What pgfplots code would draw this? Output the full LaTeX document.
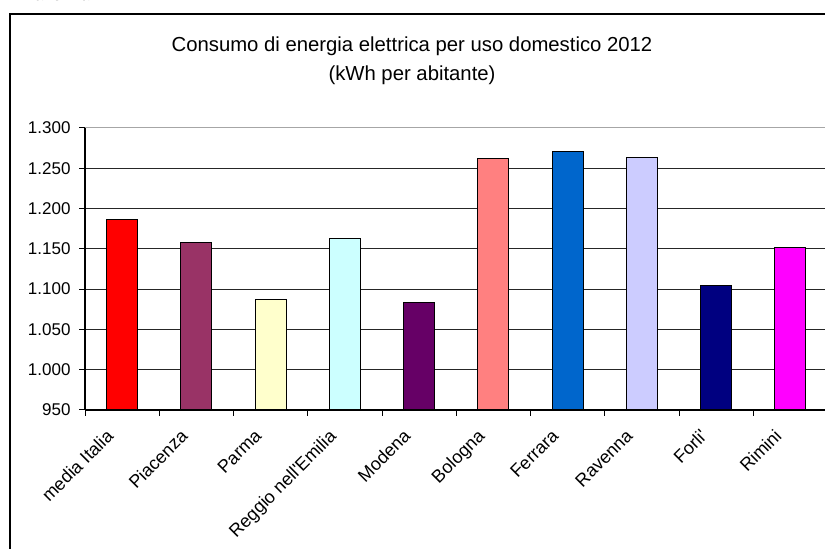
\documentclass[border=0pt]{standalone}
\usepackage{pgfplots}
\pgfplotsset{compat=1.18}
\usepackage{fontspec}
\setmainfont{Liberation Sans}[Ligatures=TeXOff]
\definecolor{cA}{HTML}{FF0000}
\definecolor{cB}{HTML}{993366}
\definecolor{cC}{HTML}{FFFFCC}
\definecolor{cD}{HTML}{CCFFFF}
\definecolor{cE}{HTML}{660066}
\definecolor{cF}{HTML}{FF8080}
\definecolor{cG}{HTML}{0066CC}
\definecolor{cH}{HTML}{CCCCFF}
\definecolor{cI}{HTML}{000080}
\definecolor{cJ}{HTML}{FF00FF}
\begin{document}
\begin{tikzpicture}
\begin{scope}
\clip (0pt,0pt) rectangle (825pt,549pt);
\draw[line width=1.2pt] (10pt,-30pt) rectangle (870pt,535pt);
\node[anchor=base east, font=\fontsize{17}{20}\selectfont, inner sep=0pt] at (95pt,548pt) {Ravenna.};
\node[anchor=base, font=\fontsize{20.3}{24}\selectfont, inner sep=0pt] at (412pt,497pt) {Consumo di energia elettrica per uso domestico 2012};
\node[anchor=base, font=\fontsize{20.3}{24}\selectfont, inner sep=0pt] at (412pt,468pt) {(kWh per abitante)};
\begin{axis}[
  at={(85pt,139pt)}, anchor=south west,
  scale only axis, width=742.5pt, height=282pt,
  xmin=-0.5, xmax=9.5, ymin=950, ymax=1300,
  axis lines*=left,
  axis line style={-, line width=1.2pt, black},
  ytick={950,1000,...,1250},
  extra y ticks={1300},
  extra y tick style={grid style={gray!70, line width=1pt}},
  ymajorgrids,
  grid style={black!85, line width=1pt},
  tick align=outside,
  major tick length=6pt,
  minor tick length=6pt,
  tick style={black, line width=1pt},
  xtick={0,...,9},
  every major x tick/.style={draw=none},
  minor xtick={-0.5,0.5,...,9.5},
  xticklabels={media Italia,Piacenza,Parma,Reggio nell'Emilia,Modena,Bologna,Ferrara,Ravenna,Forli',Rimini},
  xticklabel style={rotate=45, anchor=north east, font=\fontsize{18}{20}\selectfont, inner sep=0pt, xshift=-20.5pt, yshift=3.5pt},
  yticklabel style={font=\fontsize{17}{20}\selectfont, xshift=-5pt, /pgf/number format/1000 sep={.}, /pgf/number format/assume math mode=true},
  ybar, bar width=0.42, bar shift=0pt,
  every axis plot/.append style={draw=black, line width=1pt},
]
\addplot[fill=cA] coordinates {(0,1187)};
\addplot[fill=cB] coordinates {(1,1158)};
\addplot[fill=cC] coordinates {(2,1087)};
\addplot[fill=cD] coordinates {(3,1163)};
\addplot[fill=cE] coordinates {(4,1083)};
\addplot[fill=cF] coordinates {(5,1262)};
\addplot[fill=cG] coordinates {(6,1271)};
\addplot[fill=cH] coordinates {(7,1264)};
\addplot[fill=cI] coordinates {(8,1105)};
\addplot[fill=cJ] coordinates {(9,1152)};
\end{axis}
\end{scope}
\pgfresetboundingbox
\useasboundingbox (0pt,0pt) rectangle (825pt,549pt);
\end{tikzpicture}
\end{document}
